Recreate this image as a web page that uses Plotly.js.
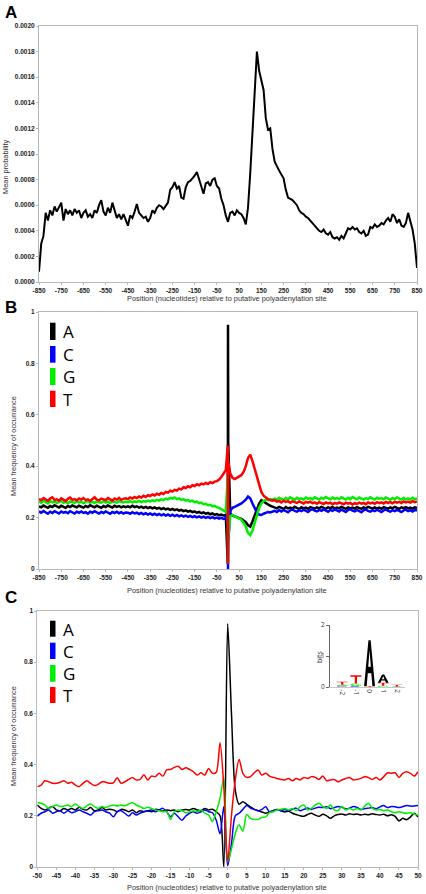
<!DOCTYPE html>
<html><head><meta charset="utf-8">
<script src="https://cdn.plot.ly/plotly-3.0.1.min.js"></script>
<style>html,body{margin:0;padding:0;background:#fff;} #chart{width:426px;height:894px;}</style>
</head><body><div id="chart"></div>
<script>
// ---------- Panel A: mean probability (units of 1e-4) ----------
const posA = []; for (let p = -850; p <= 850; p += 10) posA.push(p);
const meanProbA = [
 0.8,3.0,3.6,5.4,4.8,5.6,5.2,5.9,5.5,5.8,
 6.2,4.8,5.7,5.3,5.6,5.2,5.7,5.4,5.6,5.0,
 5.4,5.6,5.1,5.3,5.0,5.6,5.4,6.0,6.4,5.5,
 5.2,5.8,5.4,6.2,5.6,5.0,5.3,4.9,5.3,4.8,
 4.4,5.2,5.0,5.5,6.1,5.4,5.2,5.0,5.1,4.7,
 5.0,5.6,5.4,5.8,6.0,5.9,5.7,6.0,6.2,7.2,
 7.4,7.8,7.3,7.5,6.6,6.5,7.4,7.8,7.9,8.1,
 8.3,8.6,8.0,7.6,6.9,7.7,7.8,7.5,8.0,8.1,
 7.5,7.3,6.5,6.0,5.2,4.7,5.4,5.5,5.2,5.6,
 5.4,5.3,5.0,4.5,5.8,8.5,11.5,15.0,18.0,16.5,
 15.8,15.0,12.8,11.9,12.0,10.4,9.4,9.0,8.7,8.4,
 8.1,7.2,6.6,6.5,6.4,6.2,6.0,5.6,5.4,5.3,
 5.1,5.0,4.8,4.6,4.4,4.2,4.0,3.9,4.1,3.8,
 3.7,3.9,3.5,3.4,3.5,3.3,3.6,3.4,3.8,4.2,
 4.1,4.3,4.1,4.2,3.9,3.8,4.0,3.6,3.7,4.3,
 4.2,4.5,4.3,4.4,4.6,4.5,4.8,5.0,4.7,5.3,
 5.1,4.6,4.9,4.4,4.3,4.6,5.4,4.8,4.1,3.0,
 1.1];
const yTickValsA = [0,2,4,6,8,10,12,14,16,18,20];
const yTickTextA = ['0.0000','0.0002','0.0004','0.0006','0.0008','0.0010','0.0012','0.0014','0.0016','0.0018','0.0020'];
const xTickValsAB = [-850,-750,-650,-550,-450,-350,-250,-150,-50,50,150,250,350,450,550,650,750,850];
const xTickTextAB = ['-850','-750','-650','-550','-450','-350','-250','-150','-50','50','150','250','350','450','550','650','750','850'];

// ---------- Panel B: nucleotide frequencies, -850..850 ----------
const posB = [];
for (let p = -850; p <= -10; p += 10) posB.push(p);
posB.push(-1, 0, 1);
for (let p = 10; p <= 850; p += 10) posB.push(p);

const freqB_T = [
 0.272,0.268,0.276,0.270,0.265,0.274,0.279,0.268,0.271,0.266,
 0.275,0.270,0.264,0.273,0.278,0.269,0.272,0.267,0.274,0.270,
 0.276,0.268,0.271,0.265,0.273,0.279,0.270,0.267,0.274,0.271,
 0.268,0.276,0.272,0.266,0.274,0.270,0.277,0.269,0.273,0.275,
 0.272,0.278,0.274,0.280,0.276,0.282,0.278,0.285,0.280,0.287,
 0.284,0.290,0.286,0.293,0.289,0.296,0.292,0.300,0.297,0.305,
 0.301,0.308,0.305,0.313,0.310,0.318,0.315,0.322,0.318,0.326,
 0.323,0.330,0.326,0.332,0.329,0.335,0.331,0.338,0.334,0.340,
 0.342,0.348,0.358,0.372,0.385,
 0.48,0.02,0.42,
 0.372,0.355,0.350,0.356,0.360,0.365,0.378,0.400,0.432,0.445,
 0.420,0.390,0.355,0.325,0.300,0.285,0.278,0.272,0.268,0.266,
 0.268,0.262,0.265,0.259,0.266,0.261,0.264,0.258,0.263,0.260,
 0.257,0.263,0.259,0.255,0.261,0.258,0.262,0.256,0.259,0.254,
 0.260,0.257,0.253,0.259,0.255,0.258,0.252,0.257,0.254,0.259,
 0.255,0.252,0.258,0.254,0.257,0.251,0.256,0.253,0.258,0.254,
 0.257,0.252,0.259,0.255,0.258,0.254,0.260,0.256,0.259,0.255,
 0.261,0.257,0.260,0.256,0.262,0.258,0.261,0.257,0.263,0.259,
 0.262,0.258,0.264,0.260,0.263];
const freqB_G = [
 0.262,0.258,0.266,0.260,0.255,0.264,0.259,0.263,0.257,0.261,
 0.265,0.258,0.262,0.256,0.263,0.260,0.257,0.264,0.259,0.262,
 0.256,0.261,0.265,0.258,0.262,0.257,0.263,0.260,0.258,0.264,
 0.259,0.262,0.257,0.263,0.260,0.258,0.264,0.261,0.259,0.262,
 0.260,0.264,0.259,0.263,0.261,0.265,0.260,0.264,0.262,0.266,
 0.263,0.267,0.264,0.269,0.266,0.271,0.268,0.274,0.271,0.277,
 0.274,0.278,0.272,0.275,0.269,0.272,0.266,0.269,0.263,0.266,
 0.260,0.262,0.256,0.258,0.252,0.254,0.248,0.250,0.244,0.246,
 0.240,0.238,0.232,0.228,0.222,
 0.36,0.02,0.12,
 0.205,0.210,0.205,0.200,0.198,0.192,0.180,0.165,0.140,0.132,
 0.150,0.180,0.210,0.238,0.255,0.265,0.270,0.268,0.272,0.270,
 0.274,0.270,0.277,0.272,0.268,0.276,0.271,0.279,0.273,0.269,
 0.277,0.272,0.275,0.270,0.278,0.273,0.276,0.271,0.279,0.274,
 0.270,0.277,0.273,0.280,0.275,0.271,0.278,0.273,0.276,0.272,
 0.279,0.274,0.270,0.277,0.272,0.280,0.275,0.271,0.278,0.274,
 0.270,0.276,0.272,0.279,0.274,0.270,0.277,0.273,0.276,0.271,
 0.278,0.273,0.269,0.276,0.272,0.278,0.273,0.270,0.276,0.271,
 0.275,0.270,0.277,0.272,0.274];
const freqB_A = [
 0.244,0.240,0.247,0.242,0.238,0.245,0.241,0.248,0.243,0.239,
 0.246,0.242,0.238,0.245,0.241,0.247,0.243,0.240,0.246,0.242,
 0.239,0.245,0.241,0.248,0.244,0.240,0.246,0.242,0.238,0.245,
 0.241,0.247,0.243,0.239,0.246,0.242,0.245,0.240,0.244,0.241,
 0.244,0.240,0.246,0.241,0.244,0.239,0.243,0.238,0.242,0.237,
 0.241,0.236,0.240,0.235,0.238,0.233,0.237,0.232,0.235,0.230,
 0.234,0.229,0.232,0.227,0.230,0.225,0.228,0.223,0.226,0.221,
 0.224,0.219,0.222,0.217,0.220,0.215,0.218,0.213,0.216,0.211,
 0.214,0.209,0.212,0.208,0.210,
 0.02,0.95,0.50,
 0.215,0.208,0.205,0.200,0.198,0.195,0.190,0.182,0.170,0.165,
 0.185,0.210,0.235,0.255,0.268,0.262,0.255,0.250,0.246,0.243,
 0.240,0.236,0.242,0.237,0.234,0.241,0.236,0.239,0.235,0.242,
 0.237,0.233,0.240,0.236,0.239,0.234,0.241,0.237,0.235,0.240,
 0.236,0.242,0.238,0.234,0.240,0.237,0.241,0.235,0.239,0.236,
 0.242,0.237,0.234,0.240,0.236,0.239,0.235,0.241,0.237,0.234,
 0.240,0.236,0.242,0.238,0.235,0.240,0.236,0.239,0.234,0.241,
 0.237,0.235,0.240,0.236,0.242,0.238,0.234,0.240,0.237,0.241,
 0.236,0.239,0.235,0.240,0.237];
const freqB_C = [
 0.224,0.219,0.226,0.220,0.215,0.223,0.218,0.225,0.221,0.216,
 0.224,0.219,0.222,0.217,0.225,0.220,0.216,0.223,0.219,0.224,
 0.218,0.221,0.215,0.223,0.219,0.225,0.220,0.216,0.222,0.218,
 0.224,0.219,0.215,0.222,0.218,0.223,0.217,0.221,0.216,0.220,
 0.219,0.215,0.221,0.216,0.219,0.214,0.218,0.213,0.217,0.212,
 0.216,0.211,0.215,0.210,0.214,0.209,0.213,0.208,0.212,0.207,
 0.211,0.206,0.210,0.205,0.209,0.204,0.208,0.203,0.207,0.202,
 0.206,0.201,0.205,0.200,0.204,0.199,0.203,0.198,0.202,0.197,
 0.200,0.196,0.199,0.195,0.197,
 0.236,0.0,0.10,
 0.225,0.238,0.242,0.246,0.250,0.255,0.262,0.270,0.282,0.275,
 0.255,0.235,0.220,0.212,0.210,0.215,0.218,0.222,0.220,0.224,
 0.226,0.222,0.229,0.224,0.230,0.225,0.221,0.228,0.232,0.226,
 0.223,0.229,0.225,0.231,0.227,0.222,0.229,0.233,0.227,0.224,
 0.230,0.226,0.232,0.228,0.223,0.230,0.226,0.232,0.228,0.224,
 0.231,0.227,0.222,0.229,0.233,0.227,0.224,0.230,0.226,0.221,
 0.228,0.232,0.226,0.223,0.229,0.225,0.231,0.227,0.222,0.228,
 0.232,0.226,0.223,0.229,0.225,0.230,0.226,0.222,0.228,0.231,
 0.225,0.229,0.224,0.230,0.227];

// ---------- Panel C: nucleotide frequencies, -50..50 ----------
const posC = []; for (let p = -50; p <= 50; p++) posC.push(p);
const freqC_T = [
 0.314,0.320,0.337,0.333,0.327,0.327,0.331,0.337,0.327,0.331,
 0.320,0.314,0.327,0.337,0.327,0.318,0.323,0.333,0.331,0.327,
 0.329,0.349,0.327,0.333,0.342,0.350,0.340,0.342,0.360,0.340,
 0.355,0.353,0.366,0.355,0.379,0.381,0.389,0.394,0.381,0.388,
 0.381,0.372,0.359,0.368,0.359,0.385,0.366,0.370,0.485,0.310,
 0.020,0.200,0.340,0.420,0.366,0.350,0.353,0.368,0.379,0.359,
 0.366,0.355,0.350,0.346,0.342,0.340,0.346,0.337,0.346,0.340,
 0.350,0.346,0.353,0.350,0.342,0.355,0.337,0.340,0.342,0.333,
 0.340,0.346,0.350,0.340,0.342,0.346,0.353,0.349,0.342,0.350,
 0.340,0.353,0.368,0.366,0.368,0.350,0.366,0.372,0.366,0.355,
 0.372];
const freqC_A = [
 0.242,0.229,0.223,0.229,0.236,0.223,0.220,0.229,0.223,0.229,
 0.223,0.233,0.225,0.223,0.232,0.220,0.223,0.232,0.223,0.226,
 0.223,0.216,0.225,0.223,0.216,0.223,0.212,0.220,0.216,0.219,
 0.216,0.225,0.223,0.219,0.223,0.220,0.223,0.216,0.223,0.225,
 0.223,0.229,0.223,0.220,0.229,0.223,0.226,0.216,0.200,0.000,
 0.950,0.600,0.300,0.245,0.255,0.245,0.235,0.225,0.220,0.215,
 0.210,0.215,0.220,0.225,0.220,0.215,0.218,0.210,0.205,0.200,
 0.198,0.205,0.210,0.203,0.198,0.206,0.200,0.190,0.200,0.205,
 0.207,0.203,0.208,0.205,0.207,0.203,0.206,0.204,0.208,0.205,
 0.203,0.206,0.200,0.204,0.198,0.180,0.190,0.185,0.195,0.210,
 0.195];
const freqC_C = [
 0.199,0.210,0.216,0.223,0.210,0.216,0.220,0.210,0.220,0.212,
 0.216,0.223,0.216,0.210,0.203,0.216,0.220,0.223,0.216,0.210,
 0.196,0.216,0.220,0.210,0.199,0.212,0.203,0.210,0.216,0.220,
 0.223,0.216,0.223,0.229,0.216,0.196,0.210,0.196,0.183,0.199,
 0.210,0.216,0.210,0.216,0.223,0.216,0.212,0.183,0.130,0.236,
 0.005,0.090,0.200,0.210,0.225,0.240,0.230,0.225,0.220,0.225,
 0.235,0.215,0.220,0.225,0.220,0.225,0.220,0.225,0.230,0.220,
 0.225,0.230,0.225,0.230,0.233,0.232,0.235,0.228,0.232,0.236,
 0.233,0.228,0.230,0.236,0.233,0.225,0.228,0.230,0.232,0.228,
 0.235,0.240,0.232,0.236,0.235,0.232,0.236,0.240,0.238,0.238,
 0.240];
const freqC_G = [
 0.251,0.249,0.242,0.229,0.236,0.242,0.236,0.238,0.242,0.236,
 0.246,0.236,0.229,0.239,0.246,0.236,0.229,0.236,0.232,0.238,
 0.242,0.238,0.242,0.239,0.246,0.251,0.242,0.236,0.229,0.233,
 0.229,0.223,0.220,0.216,0.216,0.186,0.216,0.223,0.220,0.212,
 0.216,0.220,0.216,0.223,0.210,0.203,0.177,0.216,0.268,0.350,
 0.020,0.070,0.130,0.165,0.140,0.205,0.190,0.186,0.186,0.194,
 0.196,0.212,0.216,0.223,0.225,0.229,0.223,0.229,0.220,0.236,
 0.242,0.223,0.229,0.242,0.249,0.236,0.229,0.242,0.223,0.220,
 0.236,0.223,0.229,0.223,0.229,0.223,0.238,0.249,0.229,0.223,
 0.225,0.220,0.223,0.216,0.212,0.216,0.212,0.210,0.212,0.207,
 0.203];
const xTickValsC = [-50,-45,-40,-35,-30,-25,-20,-15,-10,-5,0,5,10,15,20,25,30,35,40,45,50];
const xTickTextC = ['-50','-45','-40','-35','-30','-25','-20','-15','-10','-5','0','5','10','15','20','25','30','35','40','45','50'];
const yTickValsBC = [0,0.2,0.4,0.6,0.8,1];
const yTickTextBC = ['0','0.2','0.4','0.6','0.8','1'];

// ---------- Inset sequence logo (bits) ----------
const logoPos = [-2,-1,0,1,2];
const logoPosText = ['-2','-1','0','1','2'];
const logoA = [0.02,0.00,1.48,0.26,0.01];
const logoC = [0.02,0.03,0.00,0.01,0.00];
const logoG = [0.03,0.08,0.01,0.03,0.01];
const logoT = [0.10,0.27,0.02,0.10,0.05];

const nucleotides = ['A','C','G','T'];
const nucColors = {A:'#000000', C:'#0000ff', G:'#00ee00', T:'#ff0000'};

// ---------- helpers ----------
const W = 426, H = 894;
const px = v => v / W;
const py = v => 1 - v / H;
const axisLine = '#b8b8b8';
const tickFont = {family:'Liberation Sans, Arial, sans-serif', size:6.5, color:'#222', weight:'bold'};
const titleFont = {family:'Liberation Sans, Arial, sans-serif', size:7.4, color:'#333'};

function mkX(domain, range, tv, tt, anchor){
  return {domain, range, tickvals:tv, ticktext:tt, anchor, showline:true, mirror:true,
    linecolor:axisLine, linewidth:1, ticks:'outside', ticklen:2, tickcolor:axisLine,
    tickfont:tickFont, showgrid:false, zeroline:false, fixedrange:true};
}
function mkY(domain, range, tv, tt, anchor){
  return {domain, range, tickvals:tv, ticktext:tt, anchor, showline:true, mirror:true,
    linecolor:axisLine, linewidth:1, ticks:'outside', ticklen:2, tickcolor:axisLine,
    tickfont:tickFont, showgrid:false, zeroline:false, fixedrange:true};
}

const traces = [];
traces.push({x:posA, y:meanProbA, xaxis:'x', yaxis:'y', mode:'lines',
  line:{color:'#000', width:2}, hoverinfo:'skip'});
const seriesB = {A:freqB_A, C:freqB_C, G:freqB_G, T:freqB_T};
const seriesC = {A:freqC_A, C:freqC_C, G:freqC_G, T:freqC_T};
nucleotides.forEach(n => traces.push({x:posB, y:seriesB[n], xaxis:'x2', yaxis:'y2', mode:'lines',
  line:{color:nucColors[n], width:2.5}, hoverinfo:'skip'}));
nucleotides.forEach(n => traces.push({x:posC, y:seriesC[n], xaxis:'x3', yaxis:'y3', mode:'lines',
  line:{color:nucColors[n], width:1.5, shape:'spline', smoothing:0.8}, hoverinfo:'skip'}));

// glyphs for logo (unit box, y up)
function arc(r, a0, a1, steps){ const pts=[]; for(let i=0;i<=steps;i++){const a=(a0+(a1-a0)*i/steps)*Math.PI/180; pts.push([0.5+r*Math.cos(a), 0.5+r*Math.sin(a)]);} return pts; }
const GLYPHS = {
  A: [[[0,0],[0.4,1],[0.6,1],[1,0],[0.76,0],[0.66,0.28],[0.34,0.28],[0.24,0]],
      [[0.38,0.42],[0.62,0.42],[0.5,0.78]]],
  T: [[[0,1],[1,1],[1,0.82],[0.6,0.82],[0.6,0],[0.4,0],[0.4,0.82],[0,0.82]]],
  C: [arc(0.5,45,315,12).concat(arc(0.3,315,45,12))],
  G: [arc(0.5,45,340,12).concat(arc(0.3,340,45,12)),
      [[0.55,0.5],[0.98,0.5],[0.98,0.1],[0.82,0.1],[0.82,0.38],[0.55,0.38]]]
};
function glyphPath(letter, xc, y0, h, w){
  return GLYPHS[letter].map(poly => 'M' + poly.map(([u,v]) =>
    (xc - w/2 + u*w).toFixed(4) + ',' + (y0 + v*h).toFixed(4)).join('L') + 'Z').join(' ');
}
const shapes = [];
const logoData = {A:logoA, C:logoC, G:logoG, T:logoT};
logoPos.forEach((p, i) => {
  const stack = nucleotides.map(n => ({n, h:logoData[n][i]})).filter(s => s.h > 0).sort((a,b) => a.h - b.h);
  let base = 0;
  stack.forEach(s => {
    shapes.push({type:'path', xref:'x4', yref:'y4', path:glyphPath(s.n, p, base, s.h, 0.8),
      fillcolor:nucColors[s.n], line:{width:0}, layer:'above'});
    base += s.h;
  });
});

// legend bars + letters
const annotations = [];
const legendB = [[322.7,340],[346,362.7],[368,385],[390.7,407]];
const legendC = [[620.7,636.7],[642.7,659],[665,681.7],[687,703]];
[legendB, legendC].forEach(set => set.forEach(([t,b], i) => {
  const n = nucleotides[i];
  shapes.push({type:'rect', xref:'paper', yref:'paper', x0:px(50), x1:px(55.5), y0:py(b), y1:py(t),
    fillcolor:nucColors[n], line:{width:0}});
  annotations.push({xref:'paper', yref:'paper', x:px(61), y:py((t+b)/2 + 0.5), xanchor:'left', yanchor:'middle',
    text:n, showarrow:false, font:{family:'Open Sans, Noto Sans, sans-serif', size:17, color:'#000'}});
}));

// panel letters
[['A',12.5],['B',307],['C',597.5]].forEach(([t,y]) => annotations.push({xref:'paper', yref:'paper',
  x:px(2.5), y:py(y), xanchor:'left', yanchor:'middle', text:'<b>'+t+'</b>', showarrow:false,
  font:{family:'Liberation Sans, Arial, sans-serif', size:17, color:'#000'}}));

// axis titles
const xTitle = 'Position (nucleotides) relative to putative polyadenylation site';
[298.5, 590, 887].forEach(y => annotations.push({xref:'paper', yref:'paper', x:px(227), y:py(y),
  xanchor:'center', yanchor:'middle', text:xTitle, showarrow:false, font:titleFont}));
annotations.push({xref:'paper', yref:'paper', x:px(6), y:py(167), xanchor:'center', yanchor:'middle',
  text:'Mean probability', textangle:-90, showarrow:false, font:titleFont});
annotations.push({xref:'paper', yref:'paper', x:px(13), y:py(446), xanchor:'center', yanchor:'middle',
  text:'Mean frequency of occurrance', textangle:-90, showarrow:false, font:titleFont});
annotations.push({xref:'paper', yref:'paper', x:px(13), y:py(736), xanchor:'center', yanchor:'middle',
  text:'Mean frequency of occurrance', textangle:-90, showarrow:false, font:titleFont});
annotations.push({xref:'paper', yref:'paper', x:px(319), y:py(657), xanchor:'center', yanchor:'middle',
  text:'bits', textangle:-90, showarrow:false, font:{family:'Open Sans, sans-serif', size:7, color:'#333'}});

const layout = {
  width:W, height:H, margin:{l:0,r:0,t:0,b:0}, showlegend:false,
  paper_bgcolor:'#fff', plot_bgcolor:'#fff',
  xaxis: mkX([px(39), px(417)], [-850,850], xTickValsAB, xTickTextAB, 'y'),
  yaxis: mkY([py(282), py(26)], [0,20], yTickValsA, yTickTextA, 'x'),
  xaxis2: mkX([px(39), px(417)], [-850,850], xTickValsAB, xTickTextAB, 'y2'),
  yaxis2: mkY([py(569), py(312)], [0,1], yTickValsBC, yTickTextBC, 'x2'),
  xaxis3: mkX([px(37.3), px(418)], [-50,50], xTickValsC, xTickTextC, 'y3'),
  yaxis3: mkY([py(867), py(611)], [0,1], yTickValsBC, yTickTextBC, 'x3'),
  xaxis4: {domain:[px(330), px(405)], range:[-2.9,2.6], anchor:'y4', showline:true, mirror:false,
    linecolor:'#c8c8c8', linewidth:1, ticks:'', tickvals:logoPos, ticktext:logoPosText, tickangle:90,
    tickfont:{family:'Open Sans, sans-serif', size:6.5, color:'#333'}, showgrid:false, zeroline:false, fixedrange:true},
  yaxis4: {domain:[py(687), py(625)], range:[0,2], anchor:'x4', showline:true, mirror:false,
    linecolor:'#666', linewidth:1, ticks:'outside', ticklen:3, tickcolor:'#666', tickvals:[0,1,2], ticktext:['0','1','2'],
    tickfont:{family:'Open Sans, sans-serif', size:6.5, color:'#333'}, showgrid:false, zeroline:false, fixedrange:true},
  shapes, annotations
};
Plotly.newPlot('chart', traces, layout, {staticPlot:true, displayModeBar:false});
</script></body></html>
